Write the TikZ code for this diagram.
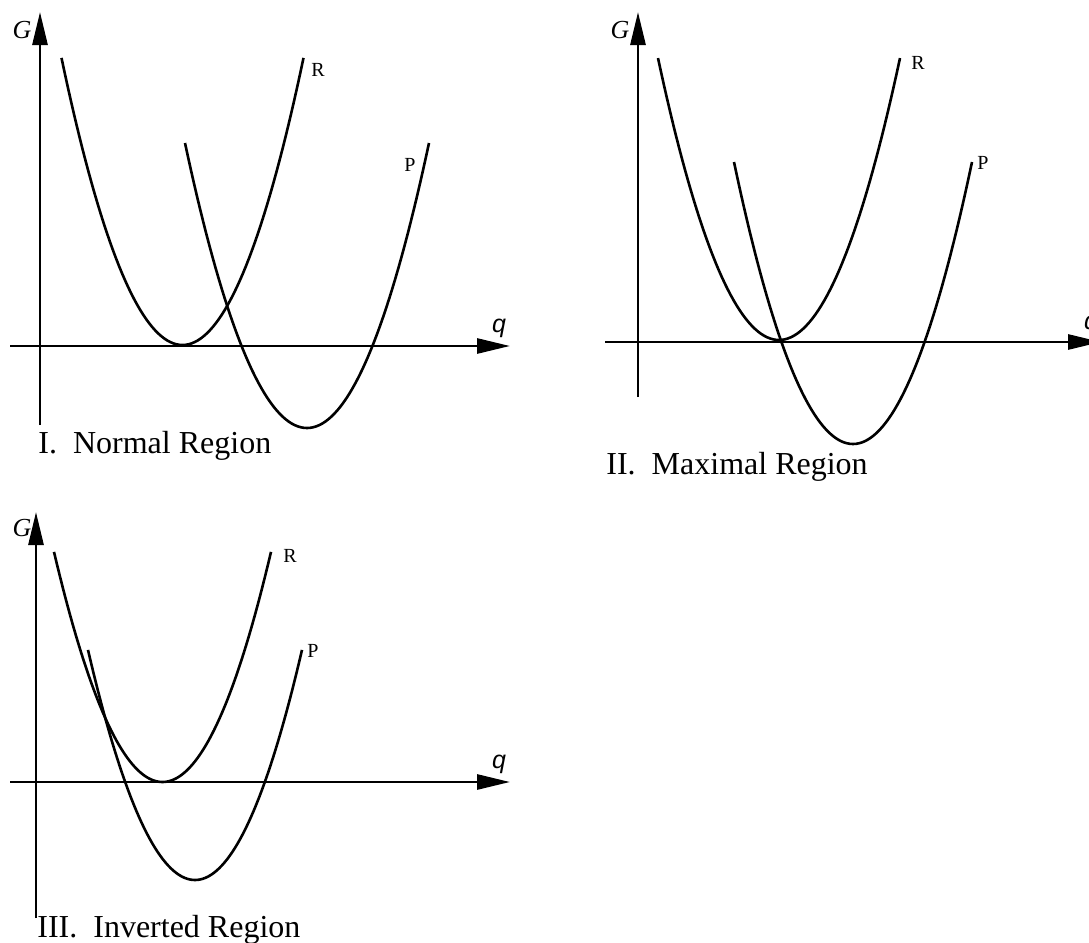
\documentclass[tikz,border=0pt]{standalone}
\usepackage{fontspec}
\setmainfont{Liberation Serif}
\newfontfamily\arialfont{Liberation Sans}
\usetikzlibrary{arrows.meta}
\tikzset{
  axisline/.style={line width=1.4pt, -{Triangle[length=16.5pt,width=7.5pt]}},
  curveline/.style={line width=1.3pt, line join=round},
  glabel/.style={inner sep=0pt, font=\fontsize{13}{15}\selectfont\itshape},
  qlabel/.style={inner sep=0pt, font=\arialfont\fontsize{12.5}{14}\selectfont\itshape},
  rplabel/.style={inner sep=0pt, font=\fontsize{10}{12}\selectfont},
  titlelabel/.style={inner sep=0pt, anchor=base west, font=\fontsize{16}{19}\selectfont},
}
\begin{document}
\begin{tikzpicture}[x=0.5pt,y=-0.5pt]
\useasboundingbox (0,0) rectangle (1089,943);
\clip (0,0) rectangle (1089,943);
% ---------- Panel I ----------
\coordinate (ayb1) at (40,425);
\coordinate (ayt1) at (40,12);
\coordinate (axl1) at (10,346);
\coordinate (axr1) at (510,346);
\draw[axisline] (ayb1) -- (ayt1);
\draw[axisline] (axl1) -- (axr1);
\node[glabel] (g1) at (22,30) {G};
\node[qlabel] (q1) at (499,328) {q};
\draw[curveline] plot[domain=-121:121, samples=81] ({182.5+\x},{345-0.0196*\x*\x});
\draw[curveline] plot[domain=-122:122, samples=81] ({307+\x},{428-0.01915*\x*\x});
\node[rplabel] (r1) at (318,70) {R};
\node[rplabel] (p1) at (410,165) {P};
\node[titlelabel] (t1) at (38,453) {I.\hspace{0.5em}Normal Region};
% ---------- Panel II ----------
\coordinate (ayb2) at (638,397);
\coordinate (ayt2) at (638,12);
\coordinate (axl2) at (605,342);
\coordinate (axr2) at (1101,342);
\draw[axisline] (ayb2) -- (ayt2);
\draw[axisline] (axl2) -- (axr2);
\node[glabel] (g2) at (620,30) {G};
\node[qlabel] (q2) at (1091,325) {q};
\draw[curveline] plot[domain=-121:121, samples=81] ({779+\x},{340-0.01926*\x*\x});
\draw[curveline] plot[domain=-119:119, samples=81] ({853+\x},{444-0.01991*\x*\x});
\node[rplabel] (r2) at (918,63) {R};
\node[rplabel] (p2) at (983,163) {P};
\node[titlelabel] (t2) at (606,474) {II.\hspace{0.5em}Maximal Region};
% ---------- Panel III ----------
\coordinate (ayb3) at (36,918);
\coordinate (ayt3) at (36,512);
\coordinate (axl3) at (10,782);
\coordinate (axr3) at (510,782);
\draw[axisline] (ayb3) -- (ayt3);
\draw[axisline] (axl3) -- (axr3);
\node[glabel] (g3) at (22,528) {G};
\node[qlabel] (q3) at (499,764) {q};
\draw[curveline] plot[domain=-108.5:108.5, samples=81] ({162.5+\x},{782-0.01954*\x*\x});
\draw[curveline] plot[domain=-107:107, samples=81] ({195+\x},{880-0.02009*\x*\x});
\node[rplabel] (r3) at (290,556) {R};
\node[rplabel] (p3) at (313,651) {P};
\node[titlelabel] (t3) at (37,937) {III.\hspace{0.5em}Inverted Region};
\end{tikzpicture}
\end{document}
